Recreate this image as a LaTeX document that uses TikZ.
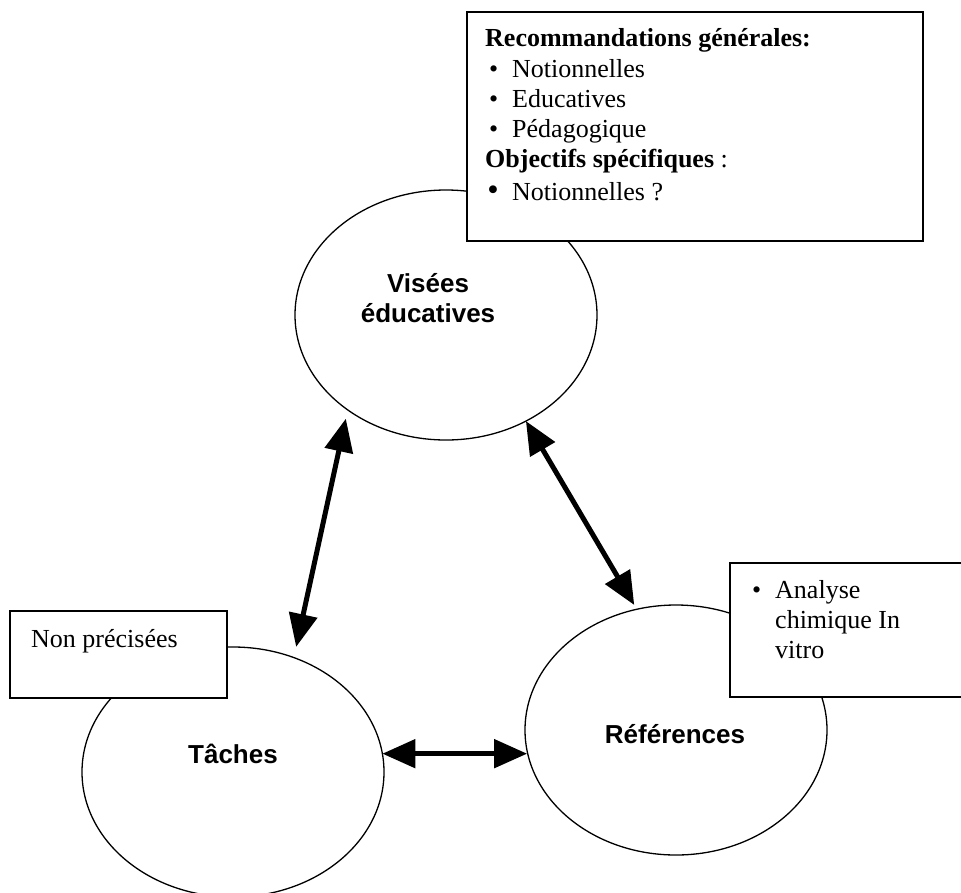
\documentclass[tikz,border=0pt]{standalone}
\usepackage{fontspec}
\setmainfont{Liberation Serif}
\newfontfamily\arialfont{Liberation Sans}
\usetikzlibrary{arrows.meta,shapes.geometric}
\tikzset{
  oval/.style={ellipse, draw, line width=1.3pt, minimum width=302pt, minimum height=250pt, inner sep=0pt, outer sep=0pt},
  infobox/.style={draw, fill=white, line width=1.5pt},
  serif/.style={font=\fontsize{26}{30.5}\selectfont, inner sep=0pt, anchor=base west},
  lbl/.style={font=\arialfont\bfseries\fontsize{26}{30.5}\selectfont, inner sep=0pt, anchor=base, align=center},
  dbl/.style={line width=5pt, {Triangle[length=33pt,width=28pt]}-{Triangle[length=33pt,width=28pt]}},
}
\begin{document}
\begin{tikzpicture}[x=1pt,y=-1pt]
\useasboundingbox (0,0) rectangle (961,892);
% ellipses
\node[oval] (V) at (446,315) {};
\node[oval] (T) at (233,772) {};
\node[oval] (R) at (676,730) {};
% labels
\node[lbl] (vl1) at (428,292) {Visées};
\node[lbl] (vl2) at (428,322) {éducatives};
\node[lbl] (tl) at (233,763) {Tâches};
\node[lbl] (rl) at (675,743) {Références};
% boxes
\draw[infobox] (467,12) rectangle (923,241);
\node[serif] (b1) at (485,46) {\textbf{Recommandations générales:}};
\node[serif] (d1) at (489,77) {•};
\node[serif] (b2) at (512,77) {Notionnelles};
\node[serif] (d2) at (489,107) {•};
\node[serif] (b3) at (512,107) {Educatives};
\node[serif] (d3) at (489,137) {•};
\node[serif] (b4) at (512,137) {Pédagogique};
\node[serif] (b5) at (485,167) {\textbf{Objectifs spécifiques} :};
\node[serif, scale=1.25] (d5) at (487,200) {•};
\node[serif] (b6) at (512,200) {Notionnelles ?};
\draw[infobox] (10,611) rectangle (227,698);
\node[serif] (np) at (31,647) {Non précisées};
\draw[infobox] (730,563) rectangle (965,697);
\node[serif] (d7) at (752,598) {•};
\node[serif] (a1) at (775,598) {Analyse};
\node[serif] (a2) at (775,628) {chimique In};
\node[serif] (a3) at (775,658) {vitro};
% arrows
\draw[dbl, shorten <=9pt, shorten >=11pt] (V.224.8) -- (T.62.1);
\draw[dbl, shorten >=5pt] (V.307.6) -- (R.108.5);
\draw[dbl] (T.7.6) -- (T.7.6 -| R.188.4);
\end{tikzpicture}
\end{document}
